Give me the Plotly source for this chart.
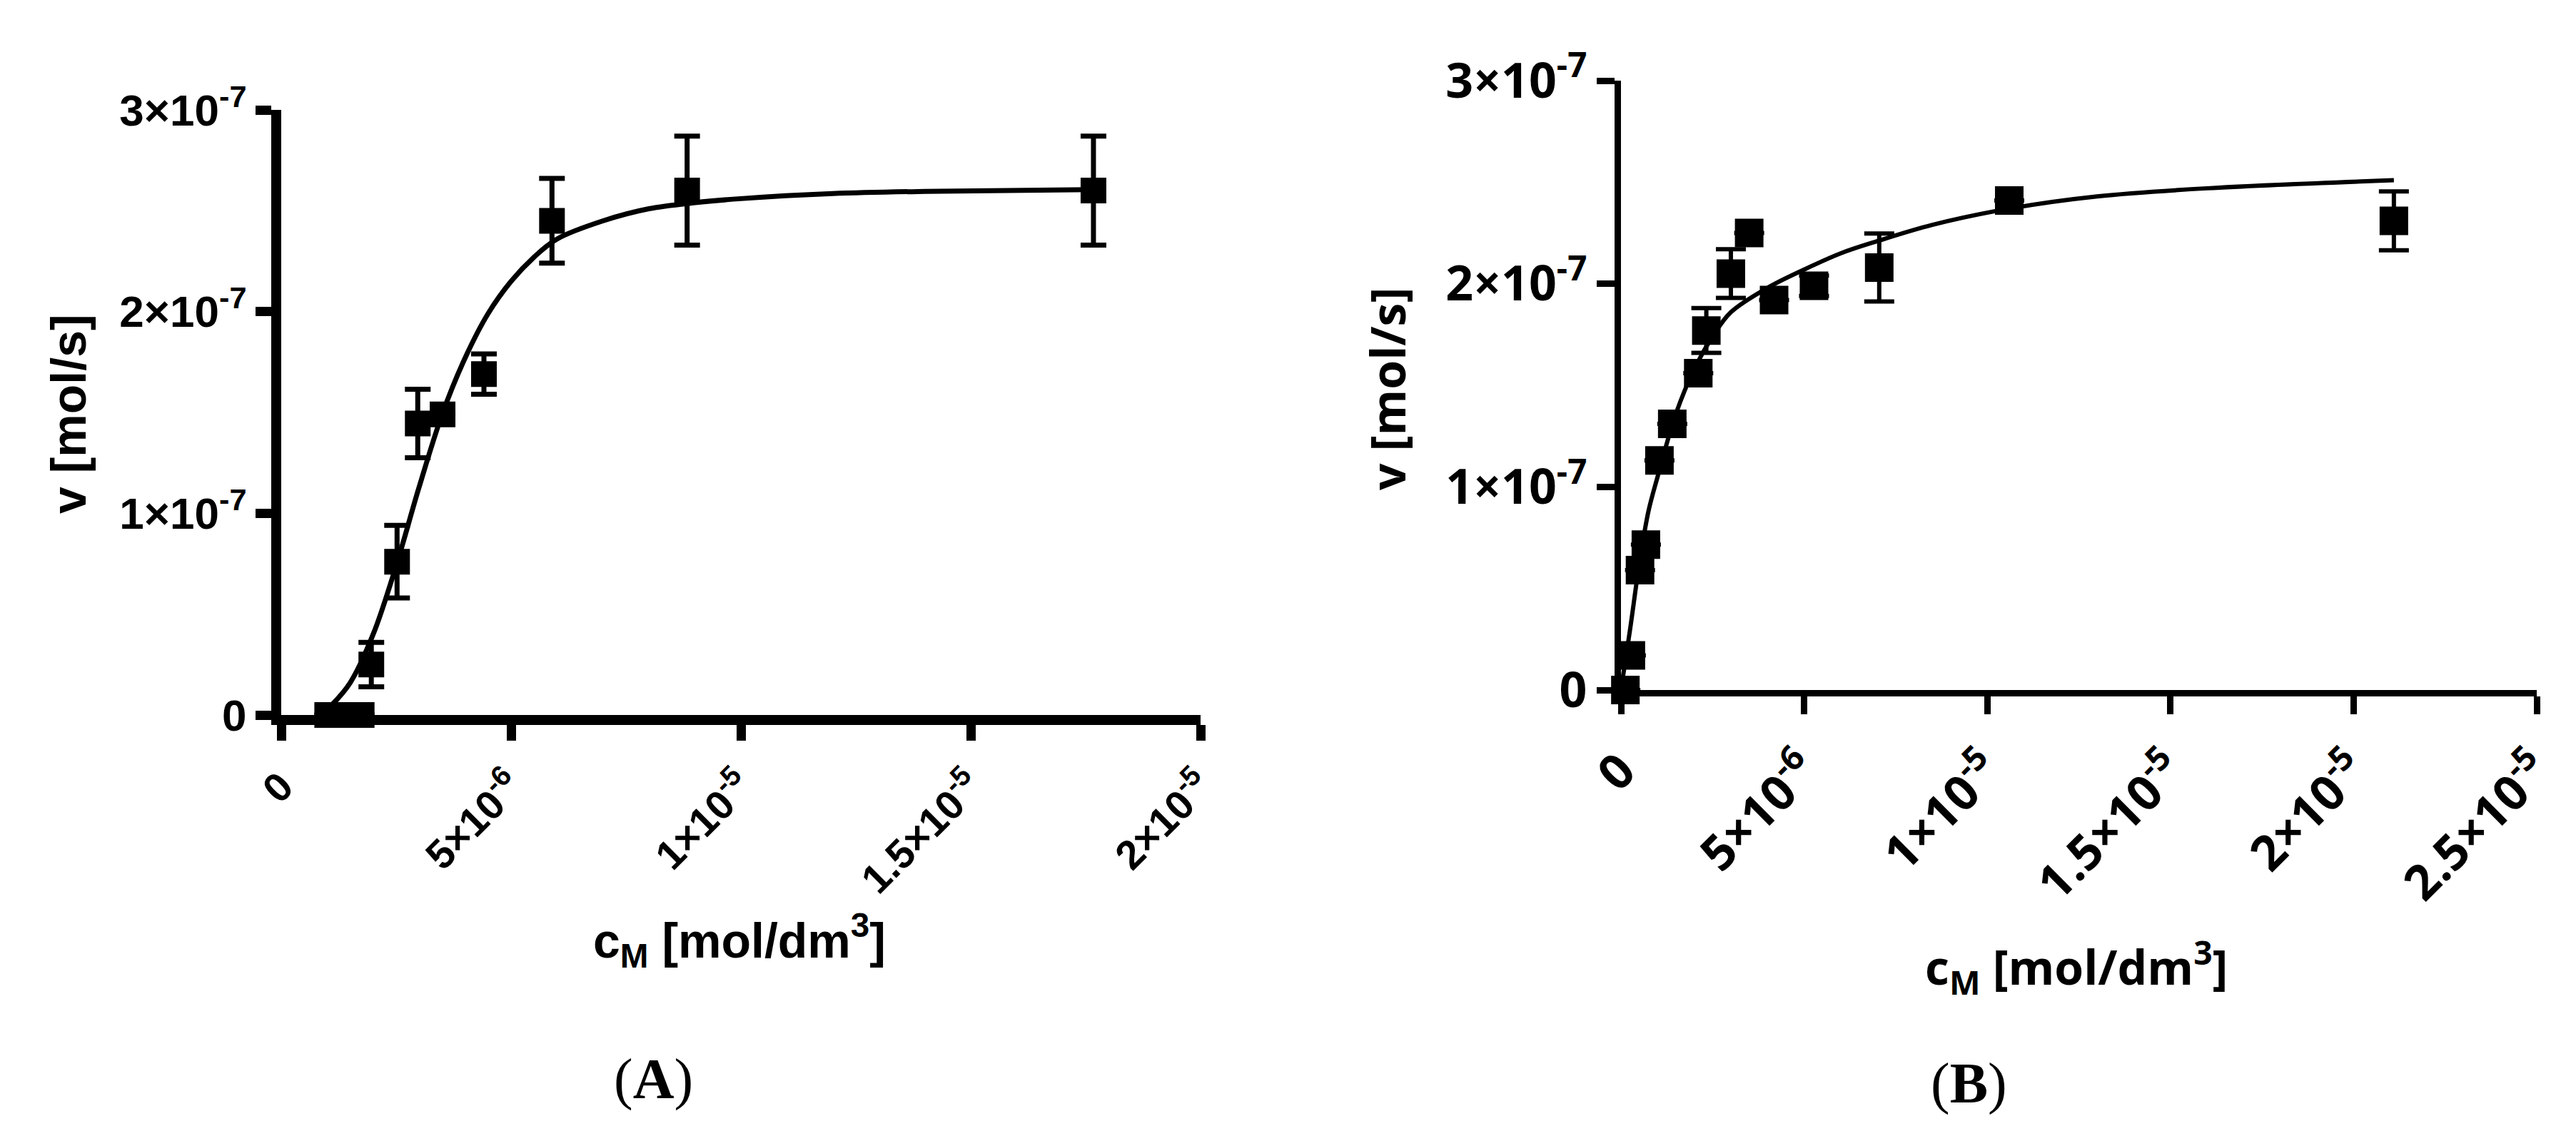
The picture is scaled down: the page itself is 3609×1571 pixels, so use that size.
import plotly.graph_objects as go

# ---------------- Panel A data ----------------
a_x = [1.0e-6, 1.4e-6, 1.75e-6, 1.96e-6, 2.52e-6, 2.97e-6, 3.51e-6, 4.41e-6, 5.89e-6, 8.83e-6, 1.767e-5]
a_y = [0, 0, 0, 2.5e-8, 7.6e-8, 1.445e-7, 1.49e-7, 1.69e-7, 2.45e-7, 2.60e-7, 2.60e-7]
a_err = [None, None, None, 1.1e-8, 1.8e-8, 1.7e-8, None, 1.0e-8, 2.1e-8, 2.7e-8, 2.7e-8]

a_fit_x = [1.1e-6, 1.5e-6, 2.0e-6, 2.5e-6, 3.0e-6, 3.5e-6, 4.0e-6, 4.5e-6, 5.0e-6, 5.5e-6,
           6.0e-6, 7.0e-6, 8.0e-6, 9.0e-6, 1.0e-5, 1.2e-5, 1.4e-5, 1.767e-5]
a_fit_y = [0.05e-7, 0.16e-7, 0.40e-7, 0.74e-7, 1.13e-7, 1.49e-7, 1.77e-7, 1.99e-7, 2.15e-7, 2.27e-7,
           2.36e-7, 2.45e-7, 2.51e-7, 2.54e-7, 2.56e-7, 2.585e-7, 2.596e-7, 2.605e-7]

a_xticks = [0, 5e-6, 1e-5, 1.5e-5, 2e-5]
a_xticktext = ["0", "5×10<sup>-6</sup>", "1×10<sup>-5</sup>", "1.5×10<sup>-5</sup>", "2×10<sup>-5</sup>"]

# ---------------- Panel B data ----------------
b_x = [0.12e-6, 0.27e-6, 0.52e-6, 0.68e-6, 1.05e-6, 1.40e-6, 2.11e-6, 2.33e-6, 3.0e-6, 3.5e-6,
       4.18e-6, 5.27e-6, 7.05e-6, 1.06e-5, 2.11e-5]
b_y = [0, 0.17e-7, 0.59e-7, 0.716e-7, 1.13e-7, 1.31e-7, 1.56e-7, 1.77e-7, 2.05e-7, 2.25e-7,
       1.92e-7, 1.99e-7, 2.08e-7, 2.41e-7, 2.31e-7]
b_err = [None, None, None, None, None, None, None, 0.11e-7, 0.12e-7, None,
         None, 0.05e-7, 0.167e-7, None, 0.145e-7]

b_fit_x = [0, 0.25e-6, 0.5e-6, 0.75e-6, 1.0e-6, 1.5e-6, 2.0e-6, 2.5e-6, 3.0e-6, 4.0e-6,
           5.0e-6, 6.0e-6, 7.0e-6, 8.5e-6, 1.06e-5, 1.3e-5, 1.6e-5, 2.11e-5]
b_fit_y = [0, 0.30e-7, 0.62e-7, 0.88e-7, 1.05e-7, 1.36e-7, 1.58e-7, 1.74e-7, 1.86e-7, 1.98e-7,
           2.07e-7, 2.15e-7, 2.21e-7, 2.29e-7, 2.37e-7, 2.43e-7, 2.47e-7, 2.51e-7]

b_xticks = [0, 5e-6, 1e-5, 1.5e-5, 2e-5, 2.5e-5]
b_xticktext = ["0", "5×10<sup>-6</sup>", "1×10<sup>-5</sup>", "1.5×10<sup>-5</sup>",
               "2×10<sup>-5</sup>", "2.5×10<sup>-5</sup>"]

y_ticks = [0, 1e-7, 2e-7, 3e-7]
y_ticktext = ["0", "1×10<sup>-7</sup>", "2×10<sup>-7</sup>", "3×10<sup>-7</sup>"]

W, H = 3609, 1571
def px(v):
    return v / W
def py(v):
    return 1 - v / H

FONT_A = "Liberation Sans, Arial, sans-serif"
FONT_B = "Open Sans, sans-serif"

fig = go.Figure()

# Panel A
fig.add_trace(go.Scatter(x=a_fit_x, y=a_fit_y, mode="lines", line=dict(color="black", width=7, shape="spline"),
                         xaxis="x", yaxis="y", cliponaxis=False, hoverinfo="skip"))
fig.add_trace(go.Scatter(x=a_x, y=a_y, mode="markers",
                         marker=dict(symbol="square", size=36, color="black"),
                         error_y=dict(type="data", array=a_err, visible=True, color="black", thickness=7, width=18),
                         xaxis="x", yaxis="y", cliponaxis=False))

# Panel B
fig.add_trace(go.Scatter(x=b_fit_x, y=b_fit_y, mode="lines", line=dict(color="black", width=6, shape="spline"),
                         xaxis="x2", yaxis="y2", cliponaxis=False, hoverinfo="skip"))
fig.add_trace(go.Scatter(x=b_x, y=b_y, mode="markers",
                         marker=dict(symbol="square", size=40, color="black"),
                         error_y=dict(type="data", array=b_err, visible=True, color="black", thickness=6, width=21),
                         xaxis="x2", yaxis="y2", cliponaxis=False))

common = dict(showgrid=False, zeroline=False, showline=True, linecolor="black", ticks="outside",
              tickcolor="black", automargin=False, fixedrange=True)

fig.update_layout(
    width=W, height=H,
    margin=dict(l=0, r=0, t=0, b=0),
    paper_bgcolor="white", plot_bgcolor="white",
    showlegend=False,
    xaxis=dict(domain=[px(386), px(1674)], range=[0, 2e-5], anchor="y",
               tickvals=a_xticks, ticktext=a_xticktext, tickangle=-45, ticklabelstandoff=8,
               linewidth=14, ticklen=22, tickwidth=13,
               tickfont=dict(family=FONT_A, size=57, color="black", weight="bold"), **common),
    yaxis=dict(domain=[py(994), py(146)], range=[0, 3e-7], anchor="x",
               tickvals=y_ticks, ticktext=y_ticktext,
               linewidth=14, ticklen=22, tickwidth=13,
               tickfont=dict(family=FONT_A, size=62, color="black", weight="bold"), **common),
    xaxis2=dict(domain=[px(2263), px(3546)], range=[0, 2.5e-5], anchor="y2",
                tickvals=b_xticks, ticktext=b_xticktext, tickangle=-45, ticklabelstandoff=12,
                linewidth=9, ticklen=25, tickwidth=9,
                tickfont=dict(family=FONT_B, size=68, color="black", weight="bold"), **common),
    yaxis2=dict(domain=[py(959), py(105)], range=[0, 3e-7], anchor="x2",
                tickvals=y_ticks, ticktext=y_ticktext,
                linewidth=9, ticklen=25, tickwidth=9,
                tickfont=dict(family=FONT_B, size=68, color="black", weight="bold"), **common),
)

annotations = [
    # Panel A titles
    dict(text="<b>v [mol/s]</b>", x=px(88), y=py(572), textangle=-90,
         font=dict(family=FONT_A, size=68, color="black")),
    dict(text="<b>c<sub>M</sub> [mol/dm<sup>3</sup>]</b>", x=px(1028), y=py(1310),
         font=dict(family=FONT_A, size=68, color="black")),
    dict(text="(<b>A</b>)", x=px(907), y=py(1504),
         font=dict(family="Liberation Serif, Times New Roman, serif", size=80, color="black")),
    # Panel B titles
    dict(text="<b>v [mol/s]</b>", x=px(1935), y=py(537), textangle=-90,
         font=dict(family=FONT_B, size=66, color="black")),
    dict(text="<b>c<sub>M</sub> [mol/dm<sup>3</sup>]</b>", x=px(2901), y=py(1347),
         font=dict(family=FONT_B, size=66, color="black")),
    dict(text="(<b>B</b>)", x=px(2750), y=py(1510),
         font=dict(family="Liberation Serif, Times New Roman, serif", size=80, color="black")),
]
for a in annotations:
    a.update(xref="paper", yref="paper", showarrow=False, xanchor="center", yanchor="middle")
fig.update_layout(annotations=annotations)

fig.write_html("out.html")
